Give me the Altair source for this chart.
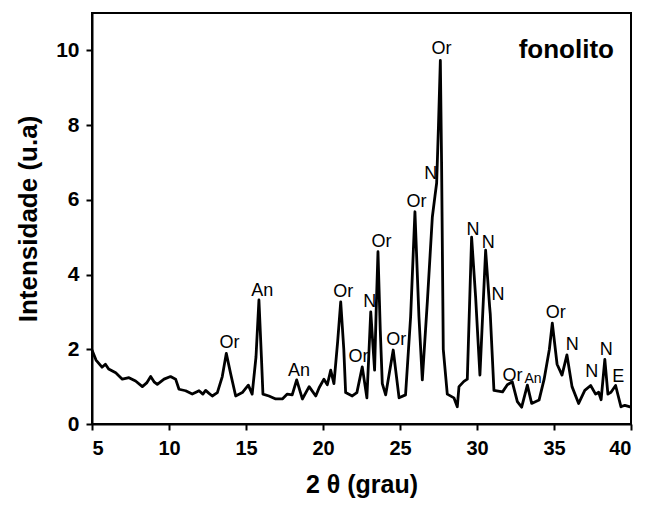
import altair as alt
import pandas as pd

# Diffraction pattern (2θ, intensity)
two_theta = [5.0, 5.26, 5.65, 5.87, 6.08, 6.54, 6.97, 7.4, 7.83, 8.27, 8.55, 8.81, 9.05, 9.24, 9.68,
             10.1, 10.43, 10.65, 11.08, 11.51, 11.75, 11.95, 12.2, 12.38, 12.6, 12.81, 13.14, 13.46,
             13.72, 14.0, 14.33, 14.76, 15.15, 15.4, 15.65, 15.84, 16.0, 16.1, 16.49, 16.93, 17.36,
             17.68, 18.0, 18.29, 18.66, 19.1, 19.53, 19.75, 20.06, 20.28, 20.5, 20.71, 20.95, 21.15,
             21.35, 21.47, 21.9, 22.2, 22.55, 22.85, 22.97, 23.1, 23.35, 23.45, 23.57, 23.72, 23.85,
             24.07, 24.56, 24.94, 25.36, 25.69, 25.97, 26.23, 26.45, 26.78, 27.1, 27.27, 27.38,
             27.5, 27.62, 27.7, 27.81, 28.07, 28.5, 28.72, 28.83, 29.15, 29.37, 29.65, 29.91, 30.19,
             30.56, 30.82, 30.86, 31.1, 31.66, 31.97, 32.29, 32.62, 32.9, 33.27, 33.55, 34.03, 34.36,
             34.7, 34.89, 35.2, 35.52, 35.84, 36.17, 36.6, 37.0, 37.38, 37.7, 37.9, 38.06, 38.3,
             38.5, 38.7, 39.0, 39.35, 39.6, 40.0]
intensity = [1.98, 1.71, 1.52, 1.60, 1.47, 1.37, 1.20, 1.24, 1.15, 1.00, 1.10, 1.27, 1.12, 1.06, 1.20,
             1.27, 1.20, 0.93, 0.89, 0.80, 0.85, 0.89, 0.80, 0.90, 0.82, 0.75, 0.84, 1.27,
             1.89, 1.35, 0.75, 0.84, 1.04, 0.80, 1.80, 3.32, 1.80, 0.80, 0.75, 0.67, 0.67,
             0.80, 0.78, 1.18, 0.67, 1.00, 0.75, 0.97, 1.20, 1.05, 1.44, 1.08, 2.20, 3.27,
             2.00, 0.84, 0.75, 0.84, 1.53, 0.70, 1.80, 3.00, 1.44, 3.00, 4.61, 2.50, 1.08,
             0.78, 1.98, 0.70, 0.78, 2.87, 5.68, 2.87, 1.18, 3.30, 5.54, 6.10, 6.45,
             8.00, 9.73, 7.00, 2.00, 0.80, 0.70, 0.46, 1.00, 1.14, 1.20, 5.00, 3.40, 1.31,
             4.65, 3.14, 2.95, 0.90, 0.86, 1.05, 1.13, 0.60, 0.45, 1.04, 0.55, 0.64, 1.20,
             2.00, 2.70, 1.60, 1.31, 1.85, 1.00, 0.55, 0.90, 1.03, 0.80, 0.85, 0.65, 1.73,
             0.80, 0.85, 1.03, 0.46, 0.50, 0.45]

# Phase labels
label_text = ["Or", "An", "An", "Or", "Or", "N", "Or", "Or", "Or", "N", "Or", "N", "N", "N",
              "Or", "An", "Or", "N", "N", "N", "E"]
label_x = [13.93, 16.06, 18.44, 21.31, 22.3, 23.03, 23.8, 24.76, 26.07, 26.99, 27.7, 29.74, 30.73,
           31.36, 32.3, 33.64, 35.11, 36.19, 37.45, 38.4, 39.18]
label_y = [2.16, 3.55, 1.43, 3.53, 1.8, 3.27, 4.87, 2.25, 5.94, 6.68, 10.04, 5.19, 4.84,
           3.45, 1.28, 1.2, 2.96, 2.11, 1.4, 1.98, 1.26]
label_size = [18, 18, 18, 18, 18, 18, 18, 18, 18, 18, 18, 18, 18, 18,
              18, 14, 18, 18, 18, 18, 18]

x_ticks = [5, 7.5, 10, 12.5, 15, 17.5, 20, 22.5, 25, 27.5, 30, 32.5, 35, 37.5, 40]
y_ticks = [0, 2, 4, 6, 8, 10]

curve = pd.DataFrame({"x": two_theta, "y": intensity})
labels = pd.DataFrame({"x": label_x, "y": label_y, "t": label_text, "fs": label_size})
sample = pd.DataFrame({"x": [35.8], "y": [10.0], "t": ["fonolito"]})

FONT = "Liberation Sans"

xscale = alt.Scale(domain=[5, 40], nice=False, zero=False)
yscale = alt.Scale(domain=[0, 11], nice=False)

xaxis = alt.Axis(values=x_ticks, labelExpr="datum.value % 5 == 0 ? datum.value : ''",
                 title="2 θ (grau)", grid=False, labelFontSize=20, labelFont=FONT,
                 labelFontWeight="bold", labelPadding=8, titleFontSize=25, titleFont=FONT,
                 titleFontWeight="bold", titlePadding=14, tickSize=6, tickWidth=2,
                 domainWidth=2, domainColor="black", tickColor="black",
                 labelColor="black", titleColor="black")
yaxis = alt.Axis(values=y_ticks, title="Intensidade (u.a)", grid=False, labelFontSize=21,
                 labelFont=FONT, labelFontWeight="bold", labelPadding=7, titleFontSize=26,
                 titleFont=FONT, titleFontWeight="bold", titlePadding=14, tickSize=6,
                 tickWidth=2, domainWidth=2, domainColor="black", tickColor="black",
                 labelColor="black", titleColor="black")

text_layer = alt.Chart(labels).mark_text(font=FONT, baseline="middle", align="center",
                                         color="black").encode(
    x=alt.X("x:Q", scale=xscale, axis=xaxis),
    y=alt.Y("y:Q", scale=yscale, axis=yaxis),
    text="t:N",
    size=alt.Size("fs:Q", scale=None, legend=None),
)

line_layer = alt.Chart(curve).mark_line(color="black", strokeWidth=2.8,
                                        strokeJoin="round").encode(
    x=alt.X("x:Q", scale=xscale),
    y=alt.Y("y:Q", scale=yscale),
)

sample_layer = alt.Chart(sample).mark_text(font=FONT, fontWeight="bold", fontSize=26,
                                           align="center", baseline="middle",
                                           color="black").encode(
    x=alt.X("x:Q", scale=xscale),
    y=alt.Y("y:Q", scale=yscale),
    text="t:N",
)

chart = alt.layer(text_layer, line_layer, sample_layer).properties(
    width=539, height=411,
    autosize=alt.AutoSizeParams(type="none"),
    padding={"left": 84, "top": 5, "right": 6, "bottom": 82},
    background="white",
).configure_view(stroke="black", strokeWidth=2)

chart.save("out.html", embed_options={"renderer": "svg", "actions": False})
